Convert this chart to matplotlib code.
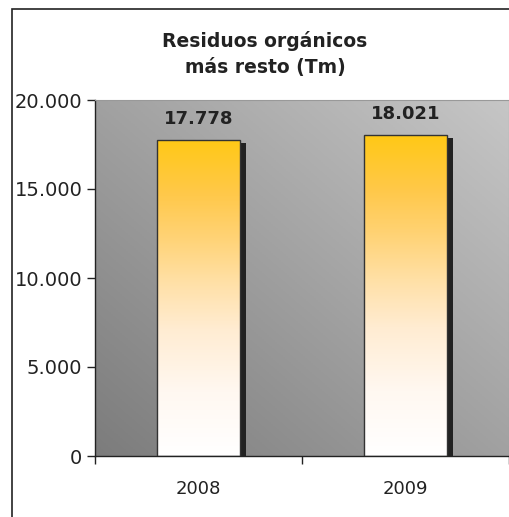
import numpy as np
import matplotlib
matplotlib.use("Agg")
import matplotlib.pyplot as plt
from matplotlib.colors import LinearSegmentedColormap
from matplotlib.patches import Rectangle

# Data
years = ["2008", "2009"]
tons = [17778, 18021]
yticks = [0, 5000, 10000, 15000, 20000]

title = "Residuos orgánicos\nmás resto (Tm)"


def fmt(v):
    return f"{v:,}".replace(",", ".")


plt.rcParams['font.family'] = ['DejaVu Sans']

fig = plt.figure(figsize=(5.10, 5.17), dpi=100)
fig.patch.set_facecolor("white")

# outer frame, clipped at right and bottom like the original
fig.patches.append(Rectangle((12 / 510, -0.05), 1.2, 1 - 9 / 517 + 0.05,
                             transform=fig.transFigure, fill=False,
                             edgecolor="#222222", linewidth=1.2))

ax = fig.add_axes([95 / 510, 1 - 456 / 517, 414 / 510, 356 / 517])

x = np.arange(len(years))
width = 0.4
ax.set_xlim(-0.5, len(years) - 0.5)
ax.set_ylim(0, 20000)

# gray diagonal background
gx, gy = np.meshgrid(np.linspace(0, 1, 200), np.linspace(0, 1, 200))
bg = (gx + gy) / 2
bg_cmap = LinearSegmentedColormap.from_list("bg", ["#7c7c7c", "#c6c6c6"])
ax.imshow(bg, cmap=bg_cmap, extent=(0, 1, 0, 1), origin="lower",
          transform=ax.transAxes, aspect="auto", zorder=0)

# shadows
px_x = 1.0 / 207
px_y = 20000 / 356
ax.bar(x + 6 * px_x, [t - 3 * px_y for t in tons], width=width,
       color="#222222", zorder=1)

# gradient bars
bar_cmap = LinearSegmentedColormap.from_list(
    "gold", [(0.0, "#ffffff"), (0.2, "#fff8f1"), (0.4, "#ffecd2"),
             (0.55, "#ffe0a6"), (0.7, "#ffd272"), (0.82, "#ffc94c"),
             (1.0, "#ffc816")])
grad = np.linspace(0, 1, 256).reshape(-1, 1)
bars = ax.bar(x, tons, width=width, facecolor="none",
              edgecolor="#333333", linewidth=1.0, zorder=3)
for b in bars:
    im = ax.imshow(grad, cmap=bar_cmap, origin="lower", aspect="auto",
                   extent=(b.get_x(), b.get_x() + b.get_width(), 0, b.get_height()),
                   zorder=2)
    im.set_clip_path(b)

ax.set_xlim(-0.5, len(years) - 0.5)
ax.set_ylim(0, 20000)

for xi, t in zip(x, tons):
    ax.annotate(fmt(t), (xi, t), xytext=(0, 15), textcoords="offset points",
                ha="center", va="center", fontsize=13, fontweight="bold",
                color="#222222")

ax.set_yticks(yticks)
ax.set_yticklabels([fmt(v) for v in yticks])
ax.set_xticks(x)
ax.set_xticklabels(years)
ax.set_xticks([-0.5, 0.5, 1.5], minor=True)
ax.tick_params(axis="x", which="major", length=0, pad=17, labelsize=13, colors="#222222")
ax.tick_params(axis="x", which="minor", length=6, width=1, color="#222222")
ax.tick_params(axis="y", length=6, width=1, labelsize=14, pad=3, colors="#222222")

for s in ["top", "right"]:
    ax.spines[s].set_color("#999999")
    ax.spines[s].set_linewidth(0.8)
for s in ["left", "bottom"]:
    ax.spines[s].set_color("#222222")
    ax.spines[s].set_linewidth(1.0)

fig.text(265 / 510, 1 - 54 / 517, title, ha="center", va="center",
         fontsize=13.5, fontweight="bold", color="#222222", linespacing=1.5)

fig.savefig("out.png", dpi=100)
